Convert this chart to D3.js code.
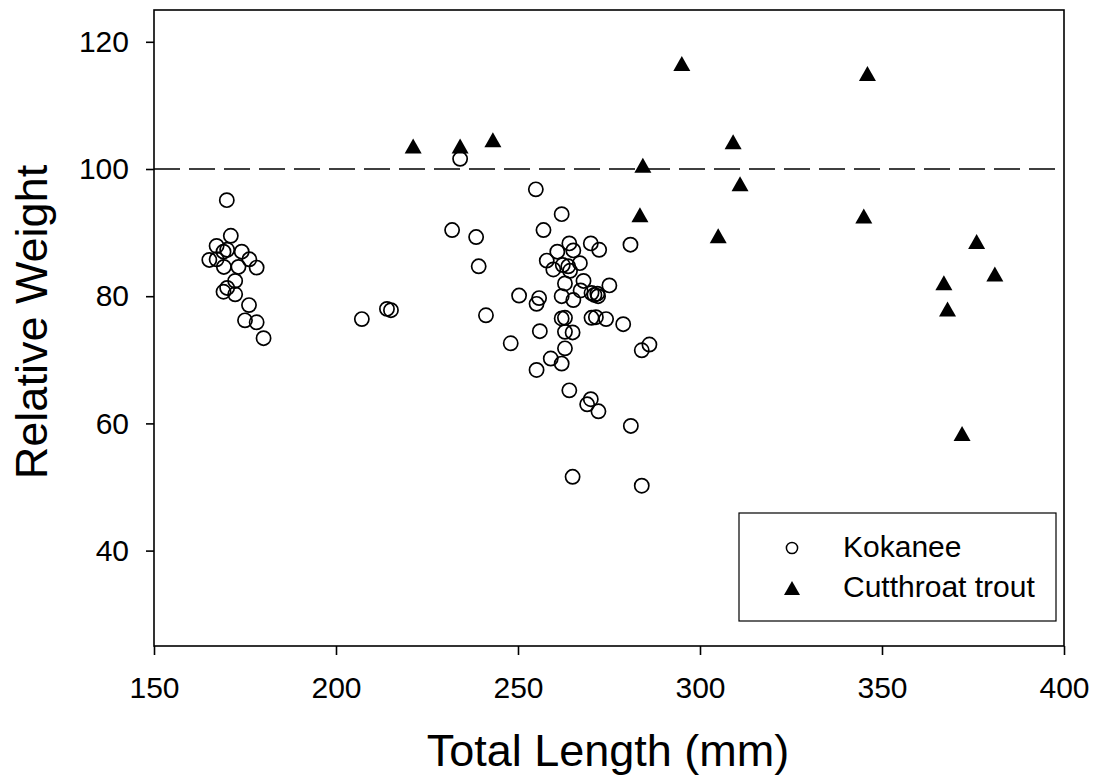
<!DOCTYPE html>
<html>
<head>
<meta charset="utf-8">
<script src="https://cdn.jsdelivr.net/npm/d3@7"></script>
<style>
  html, body { margin: 0; padding: 0; background: #fff; }
  svg { display: block; font-family: "Liberation Sans", Arial, sans-serif; }
</style>
</head>
<body>
<svg id="chart" width="1094" height="777"></svg>
<script>
// ---- data ----
const kokanee = [
  [170.0,95.1],[171.1,89.5],[167.2,87.9],[170.1,87.3],[169.1,87.0],[174.1,87.0],
  [165.2,85.7],[167.2,85.8],[176.2,85.8],[169.2,84.6],[173.2,84.6],[178.2,84.5],
  [172.3,82.4],[170.1,81.3],[169.1,80.7],[172.3,80.3],[176.1,78.6],[175.0,76.2],
  [178.2,75.9],[180.1,73.4],
  [207.1,76.4],[214.0,78.0],[215.1,77.8],[231.9,90.4],[234.1,101.6],[238.5,89.3],
  [239.2,84.7],[241.2,77.0],
  [254.9,96.8],[262.0,92.9],[257.0,90.4],[264.1,88.3],[270.0,88.3],[272.3,87.3],
  [280.9,88.1],[260.8,87.0],[265.2,87.2],[257.9,85.6],[259.7,84.2],[262.3,84.9],
  [263.8,84.7],[267.0,85.2],[264.3,84.0],[262.9,82.0],[268.0,82.4],[275.1,81.7],
  [250.3,80.1],[262.0,80.0],[265.2,79.4],[267.2,80.9],[270.2,80.5],[271.0,80.2],
  [271.8,80.4],[272.0,80.0],[255.8,79.7],[255.1,78.8],[262.0,76.5],[262.9,76.6],
  [270.2,76.6],[271.4,76.7],[274.2,76.4],[278.9,75.6],[256.0,74.5],[262.9,74.4],
  [265.0,74.3],[248.0,72.6],[284.0,71.5],[286.1,72.4],[262.9,71.8],[259.0,70.2],
  [262.0,69.4],[255.1,68.4],[264.1,65.2],[270.0,63.8],[269.0,63.0],[272.1,61.9],
  [281.0,59.6],[265.0,51.6],[284.0,50.2]
];
const cutthroat = [
  [221.2,103.6],[234.1,103.6],[243.1,104.6],[284.3,100.6],[283.5,92.8],[295.0,116.6],
  [305.0,89.5],[309.1,104.3],[311.0,97.7],[345.0,92.6],[346.0,115.0],[367.0,82.1],
  [368.0,78.0],[372.0,58.4],[376.0,88.6],[381.0,83.5]
];
const xTicks = [150, 200, 250, 300, 350, 400];
const yTicks = [40, 60, 80, 100, 120];
const xDomain = [150, 400];
const yDomain = [25, 125];
const referenceLine = 100;
const seriesNames = ["Kokanee", "Cutthroat trout"];
const xTitle = "Total Length (mm)";
const yTitle = "Relative Weight";

// ---- layout ----
const svg = d3.select("#chart");
const L = 154, R = 1064, T = 10, B = 646;
const x = d3.scaleLinear().domain(xDomain).range([L, R]);
const y = d3.scaleLinear().domain(yDomain).range([B, T]);
const lw = 1.6;

// dashed reference line
svg.append("line")
  .attr("x1", x(xDomain[0])).attr("x2", x(xDomain[1]))
  .attr("y1", y(referenceLine)).attr("y2", y(referenceLine))
  .attr("stroke", "#000").attr("stroke-width", 1.6)
  .attr("stroke-dasharray", "26,9");

// axes
const xAxis = d3.axisBottom(x).tickValues(xTicks).tickSize(9).tickSizeOuter(0).tickPadding(22);
const yAxis = d3.axisLeft(y).tickValues(yTicks).tickSize(8).tickSizeOuter(0).tickPadding(17);

const gx = svg.append("g").attr("transform", `translate(0,${B})`).call(xAxis);
const gy = svg.append("g").attr("transform", `translate(${L},0)`).call(yAxis);
[gx, gy].forEach(g => {
  g.select(".domain").remove();
  g.selectAll(".tick line").attr("stroke", "#000").attr("stroke-width", lw);
  g.selectAll(".tick text").attr("fill", "#000").style("font-size", "30px")
    .style("font-family", "'Liberation Sans', Arial, sans-serif");
});

// frame
svg.append("rect")
  .attr("x", L).attr("y", T).attr("width", R - L).attr("height", B - T)
  .attr("fill", "none").attr("stroke", "#000").attr("stroke-width", lw);

// markers
const triPath = (cx, cy, w, h) =>
  `M${cx - w / 2},${cy + h / 2}L${cx + w / 2},${cy + h / 2}L${cx},${cy - h / 2}Z`;

svg.append("g").selectAll("circle").data(kokanee).join("circle")
  .attr("cx", d => x(d[0])).attr("cy", d => y(d[1])).attr("r", 7.1)
  .attr("fill", "none").attr("stroke", "#000").attr("stroke-width", 1.7);

svg.append("g").selectAll("path").data(cutthroat).join("path")
  .attr("d", d => triPath(x(d[0]), y(d[1]), 17, 15))
  .attr("fill", "#000");

// legend
const lg = svg.append("g");
lg.append("rect").attr("x", 739).attr("y", 513).attr("width", 317).attr("height", 108)
  .attr("fill", "#fff").attr("stroke", "#000").attr("stroke-width", 1.2);
lg.append("circle").attr("cx", 792).attr("cy", 548).attr("r", 5.6)
  .attr("fill", "none").attr("stroke", "#000").attr("stroke-width", 1.5);
lg.append("path").attr("d", triPath(792, 588, 16, 14)).attr("fill", "#000");
lg.selectAll("text").data(seriesNames).join("text")
  .attr("x", 843).attr("y", (d, i) => 557 + i * 40)
  .style("font-size", "30px").attr("fill", "#000").text(d => d);

// titles
svg.append("text").attr("x", (L + R) / 2 - 1).attr("y", 766)
  .attr("text-anchor", "middle").style("font-size", "45px").attr("fill", "#000")
  .text(xTitle);
svg.append("text").attr("transform", `translate(47,322) rotate(-90)`)
  .attr("text-anchor", "middle").style("font-size", "45px").attr("fill", "#000")
  .text(yTitle);
</script>
</body>
</html>
